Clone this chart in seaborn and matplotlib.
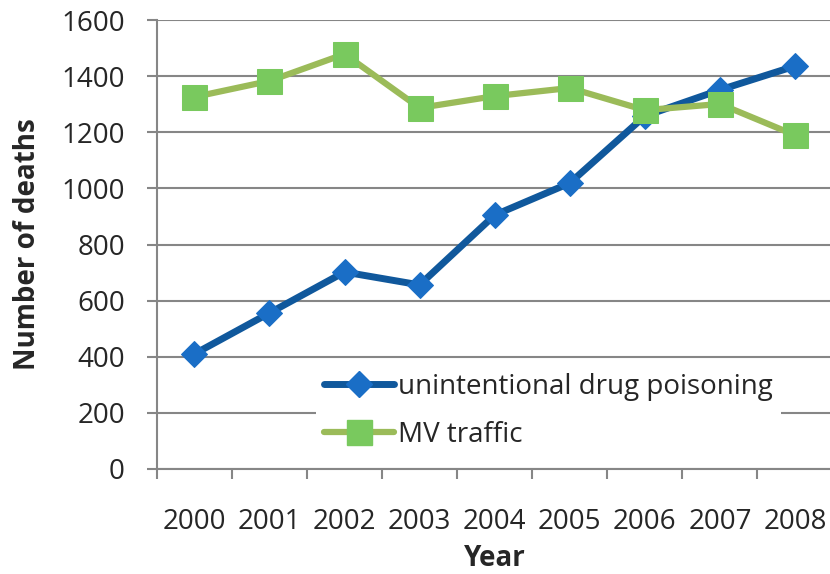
import pandas as pd
import matplotlib.pyplot as plt
from matplotlib.lines import Line2D
import seaborn as sns

# data
years = ['2000', '2001', '2002', '2003', '2004', '2005', '2006', '2007', '2008']
drug_poisoning = [410, 556, 702, 656, 905, 1019, 1258, 1351, 1436]
mv_traffic = [1326, 1383, 1479, 1287, 1329, 1358, 1279, 1301, 1190]

df = pd.DataFrame({'year': years, 'drug': drug_poisoning, 'traffic': mv_traffic})
df['pos'] = range(len(df))

sns.set_style('white')
plt.rcParams['font.family'] = ['Open Sans', 'DejaVu Sans']

blue_line, blue_mark = '#10589C', '#1A6EC6'
green_line, green_mark = '#9BBB59', '#79C95E'
grey = '#868686'

fig = plt.figure(figsize=(8.3, 5.74), dpi=100)
ax = fig.add_axes([0.189, 0.183, 0.814, 0.782])

sns.lineplot(data=df, x='pos', y='drug', ax=ax, color=blue_line, lw=5,
             marker='D', ms=13, mfc=blue_mark, mec=blue_mark, zorder=3)
sns.lineplot(data=df, x='pos', y='traffic', ax=ax, color=green_line, lw=4.5,
             marker='s', ms=18, mfc=green_mark, mec=green_mark, zorder=4)

ax.set_xlim(-0.5, len(years) - 0.5)
ax.set_ylim(0, 1600)
ax.set_yticks(range(0, 1601, 200))
ax.set_xticks(df['pos'])
ax.set_xticklabels(years)
ax.set_xticks([p - 0.5 for p in range(len(years) + 1)], minor=True)

ax.yaxis.grid(True, color=grey, lw=1.5)
ax.set_axisbelow(True)
for side in ['top', 'right']:
    ax.spines[side].set_visible(False)
for side in ['left', 'bottom']:
    ax.spines[side].set_color(grey)
    ax.spines[side].set_linewidth(1.5)

ax.tick_params(axis='y', which='major', direction='out', length=7, width=1.5,
               color=grey, pad=16, labelsize=20, left=True)
ax.tick_params(axis='x', which='major', length=0, pad=28, labelsize=20)
ax.tick_params(axis='x', which='minor', direction='out', length=7, width=1.5,
               color=grey, bottom=True)

ax.set_xlabel('Year', fontsize=20, fontweight='bold', labelpad=6)
ax.set_ylabel('Number of deaths', fontsize=20, fontweight='bold', labelpad=14)

handles = [
    Line2D([], [], color=blue_line, lw=5, marker='D', ms=13, mfc=blue_mark, mec=blue_mark),
    Line2D([], [], color=green_line, lw=4.5, marker='s', ms=18, mfc=green_mark, mec=green_mark),
]
leg = ax.legend(handles, ['unintentional drug poisoning', 'MV traffic'],
                loc='upper left', bbox_to_anchor=(302 / 830, 1 - 351 / 574),
                bbox_transform=fig.transFigure, fontsize=20, frameon=True,
                facecolor='white', edgecolor='none', framealpha=1, fancybox=False,
                handlelength=2.5, handletextpad=0.15, labelspacing=0.7, borderpad=0.3)

plt.savefig('out.png', dpi=100)
plt.close()
